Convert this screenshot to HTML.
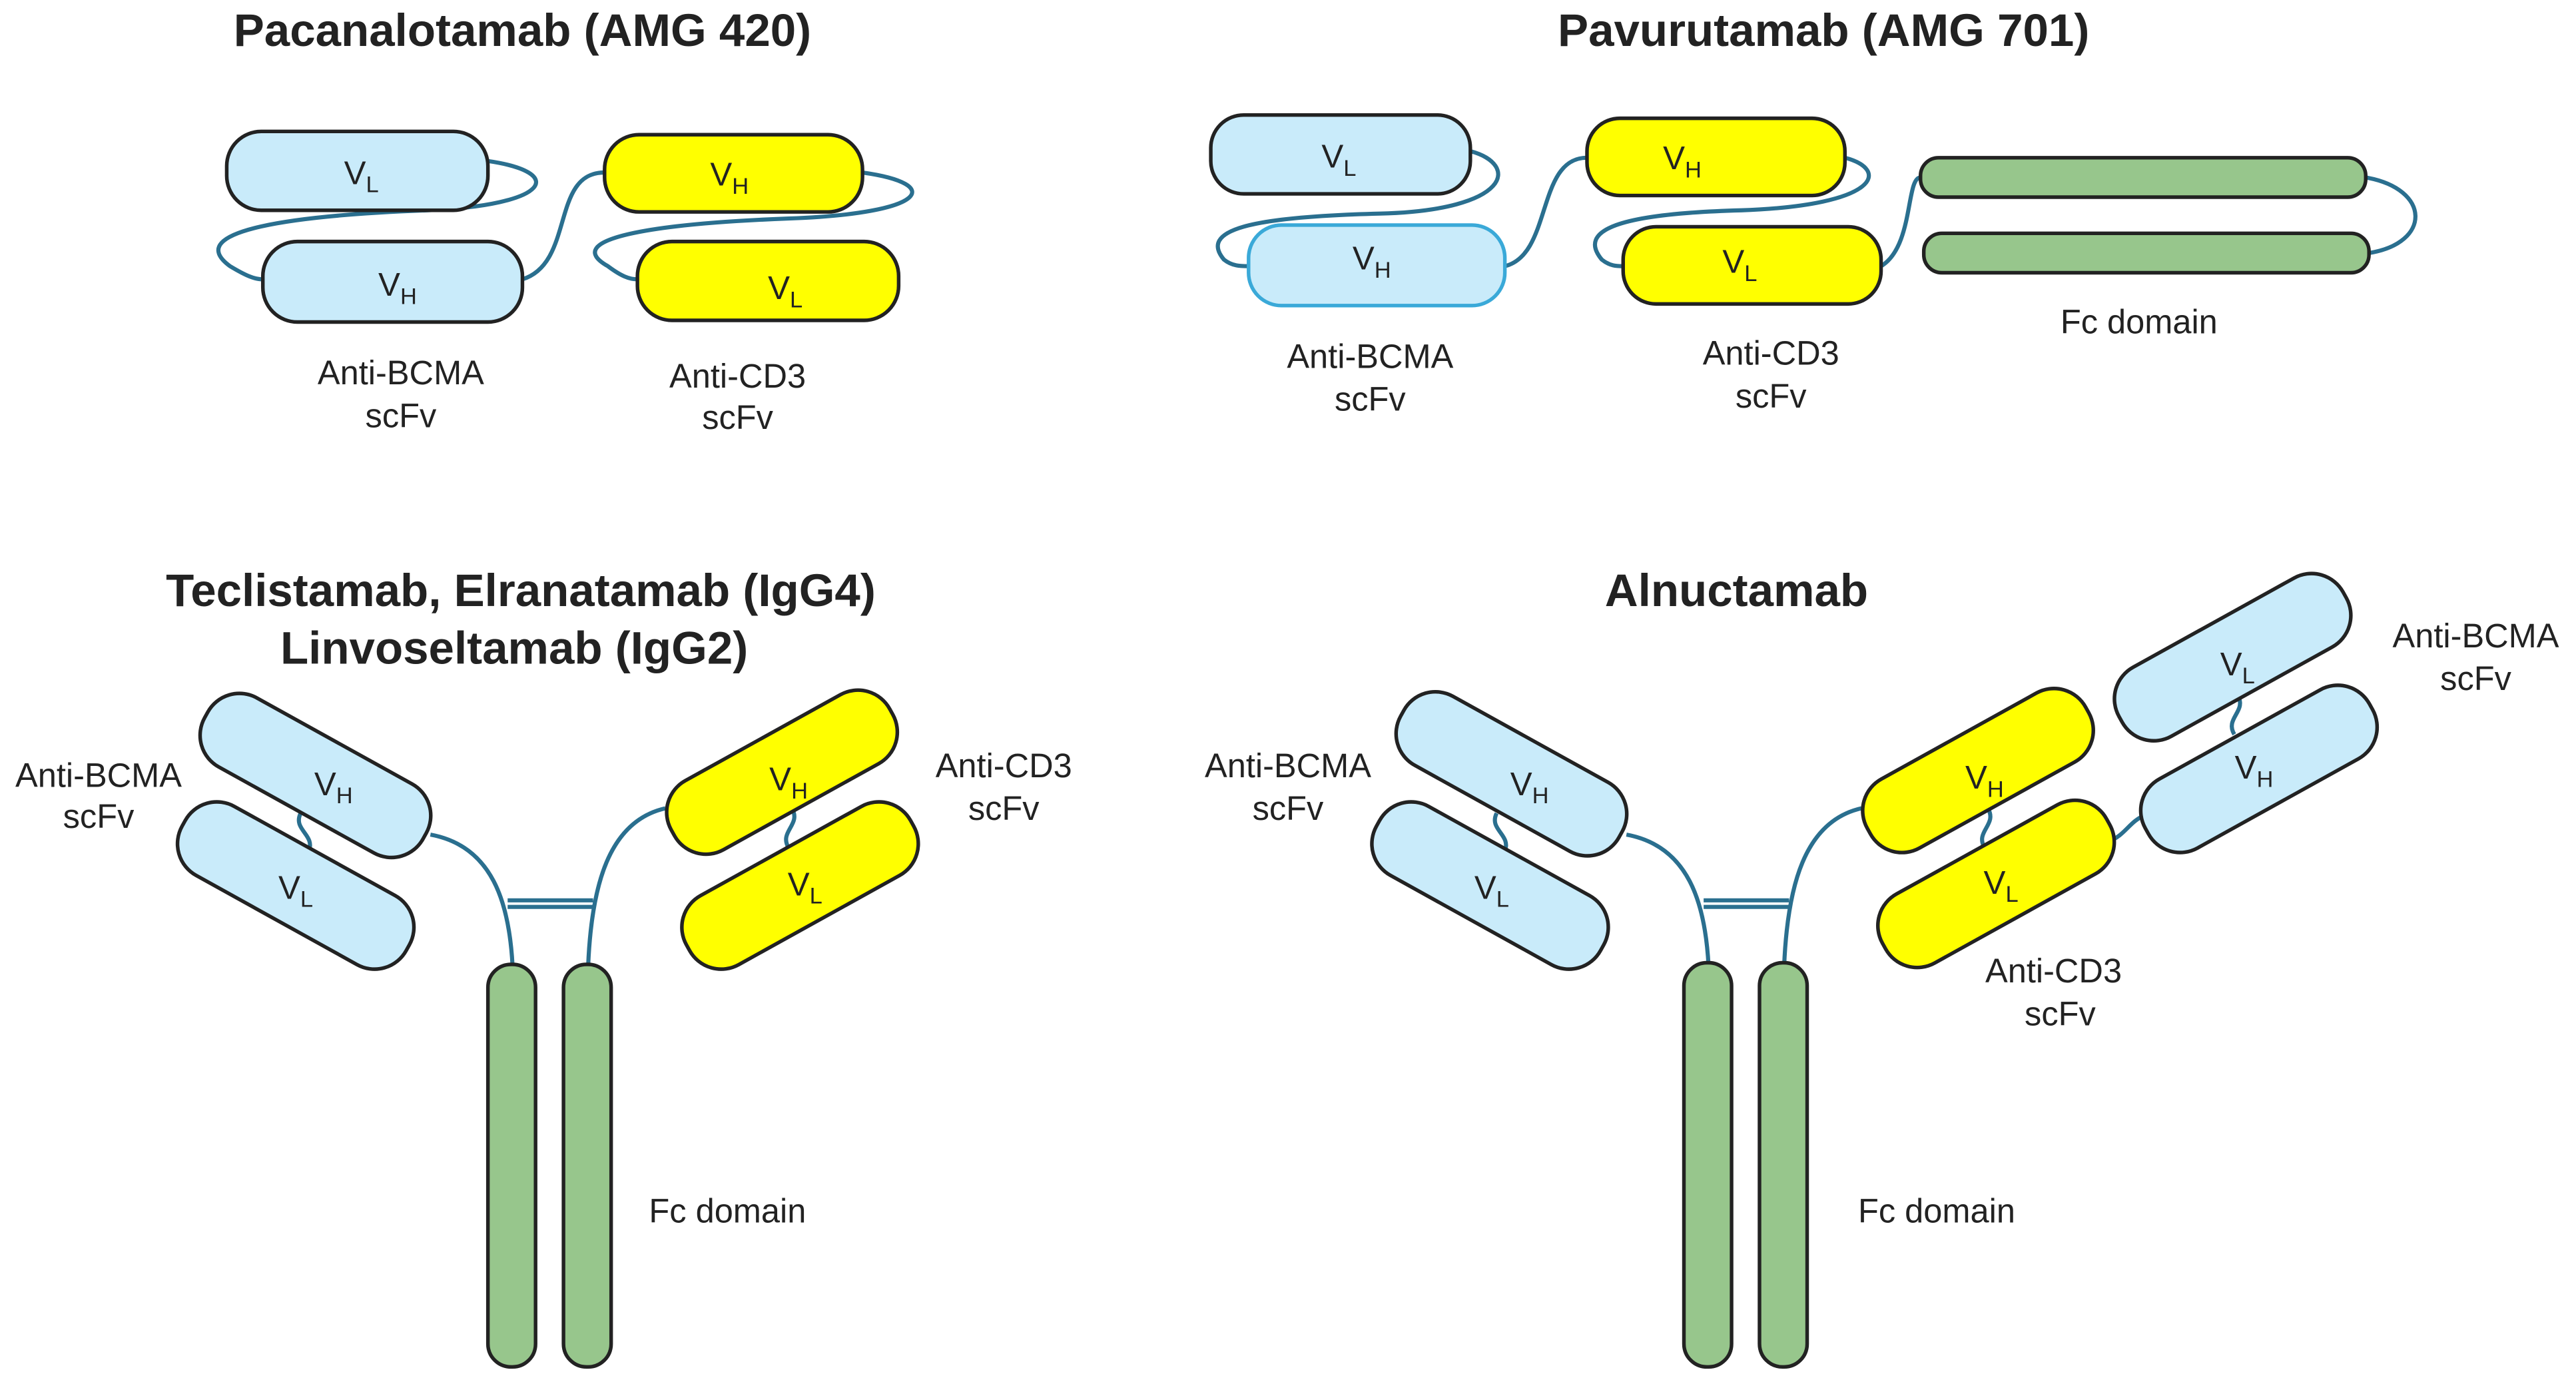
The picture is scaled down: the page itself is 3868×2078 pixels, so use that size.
<!DOCTYPE html>
<html><head><meta charset="utf-8"><style>
html,body{margin:0;padding:0;background:#fff}
svg{display:block}
text{font-family:"Liberation Sans",Arial,sans-serif;fill:#222}
.l{font-size:20.5px;text-anchor:middle}
.t{font-size:28px;font-weight:bold;text-anchor:middle}
.v{font-size:20px;text-anchor:middle}
.s{font-size:14px}
.b{fill:#c9ebfa;stroke:#222;stroke-width:2.2}
.y{fill:#ffff00;stroke:#222;stroke-width:2.2}
.g{fill:#97c68c;stroke:#222;stroke-width:2.2}
.k{fill:none;stroke:#2a6f8f;stroke-width:2.5}
</style></head><body>
<svg width="3868" height="2078" viewBox="0 0 1568 842.4" preserveAspectRatio="none" xmlns="http://www.w3.org/2000/svg">
<!-- Top-left -->
<text class="t" x="318" y="28">Pacanalotamab (AMG 420)</text>
<path class="k" d="M297 98 C345 105 335 125 260 128 C180 131 110 140 140 162 C150 168 155 170 160 170"/>
<path class="k" d="M318 170 C350 160 335 105 368 105"/>
<path class="k" d="M525 105 C575 112 565 130 480 133 C400 136 340 145 370 162 C378 168 383 170 388 170"/>
<rect class="b" x="138" y="80" width="159" height="48" rx="21"/>
<rect class="b" x="160" y="147" width="158" height="49" rx="21"/>
<rect class="y" x="368" y="82" width="157" height="47" rx="21"/>
<rect class="y" x="388" y="147" width="159" height="48" rx="21"/>
<text class="v" x="220" y="112">V<tspan class="s" dy="5">L</tspan></text>
<text class="v" x="242" y="180">V<tspan class="s" dy="5">H</tspan></text>
<text class="v" x="444" y="113">V<tspan class="s" dy="5">H</tspan></text>
<text class="v" x="478" y="182">V<tspan class="s" dy="5">L</tspan></text>
<text class="l" x="244" y="234">Anti-BCMA</text><text class="l" x="244" y="260">scFv</text>
<text class="l" x="449" y="236">Anti-CD3</text><text class="l" x="449" y="261">scFv</text>

<!-- Top-right -->
<text class="t" x="1110" y="28">Pavurutamab (AMG 701)</text>
<path class="k" d="M895 92 C925 100 920 128 840 130 C760 132 730 140 745 158 C750 162 755 162 760 162"/>
<path class="k" d="M916 162 C945 155 935 96 966 96"/>
<path class="k" d="M1123 96 C1150 103 1145 125 1060 128 C985 130 960 140 975 158 C980 162 984 162 988 162"/>
<path class="k" d="M1145 162 C1165 150 1160 108 1169 108"/>
<path class="k" d="M1440 108 C1480 115 1480 148 1442 154"/>
<rect class="b" x="737" y="70" width="158" height="48" rx="20"/>
<rect class="b" x="760" y="137" width="156" height="49" rx="20" style="stroke:#3aa9d8"/>
<rect class="y" x="966" y="72" width="157" height="47" rx="20"/>
<rect class="y" x="988" y="138" width="157" height="47" rx="20"/>
<rect class="g" x="1169" y="96" width="271" height="24" rx="11"/>
<rect class="g" x="1171" y="142" width="271" height="24" rx="11"/>
<text class="v" x="815" y="102">V<tspan class="s" dy="5">L</tspan></text>
<text class="v" x="835" y="164">V<tspan class="s" dy="5">H</tspan></text>
<text class="v" x="1024" y="103">V<tspan class="s" dy="5">H</tspan></text>
<text class="v" x="1059" y="166">V<tspan class="s" dy="5">L</tspan></text>
<text class="l" x="834" y="224">Anti-BCMA</text><text class="l" x="834" y="250">scFv</text>
<text class="l" x="1078" y="222">Anti-CD3</text><text class="l" x="1078" y="248">scFv</text>
<text class="l" x="1302" y="203">Fc domain</text>

<!-- Bottom-left -->
<text class="t" x="317" y="369">Teclistamab, Elranatamab (IgG4)</text>
<text class="t" x="313" y="404">Linvoseltamab (IgG2)</text>
<path class="k" d="M262 508 C300 515 310 550 312 588"/>
<path class="k" d="M405 492 C370 500 360 540 358 588"/>
<path class="k" d="M309 548 H361 M309 552 H361"/>
<path class="k" d="M183 495 C178 505 192 508 188 518"/>
<path class="k" d="M482 492 C488 502 474 506 480 516"/>
<rect class="g" x="297" y="587" width="29" height="245" rx="14"/>
<rect class="g" x="343" y="587" width="29" height="245" rx="14"/>
<g transform="translate(192,472) rotate(29)"><rect class="b" x="-76" y="-24" width="152" height="48" rx="22"/></g>
<g transform="translate(180,539) rotate(29)"><rect class="b" x="-78" y="-24" width="156" height="48" rx="22"/></g>
<g transform="translate(476,470) rotate(-29)"><rect class="y" x="-76" y="-24" width="152" height="48" rx="22"/></g>
<g transform="translate(487,539) rotate(-29)"><rect class="y" x="-78" y="-24" width="156" height="48" rx="22"/></g>
<text class="v" x="203" y="484">V<tspan class="s" dy="5">H</tspan></text>
<text class="v" x="180" y="547">V<tspan class="s" dy="5">L</tspan></text>
<text class="v" x="480" y="481">V<tspan class="s" dy="5">H</tspan></text>
<text class="v" x="490" y="545">V<tspan class="s" dy="5">L</tspan></text>
<text class="l" x="60" y="479">Anti-BCMA</text><text class="l" x="60" y="504">scFv</text>
<text class="l" x="611" y="473">Anti-CD3</text><text class="l" x="611" y="499">scFv</text>
<text class="l" x="395" y="744" style="text-anchor:start">Fc domain</text>

<!-- Bottom-right -->
<text class="t" x="1057" y="369">Alnuctamab</text>
<path class="k" d="M990 508 C1028 515 1038 550 1040 588"/>
<path class="k" d="M1133 492 C1098 500 1088 540 1086 588"/>
<path class="k" d="M1037 548 H1089 M1037 552 H1089"/>
<path class="k" d="M911 495 C906 505 920 508 916 518"/>
<path class="k" d="M1210 492 C1216 502 1202 506 1208 516"/>
<path class="k" d="M1362 423 C1368 433 1354 437 1360 447"/>
<path class="k" d="M1284 512 C1294 508 1296 500 1306 496"/>
<rect class="g" x="1025" y="586" width="29" height="246" rx="14"/>
<rect class="g" x="1071" y="586" width="29" height="246" rx="14"/>
<g transform="translate(920,471) rotate(29)"><rect class="b" x="-76" y="-24" width="152" height="48" rx="22"/></g>
<g transform="translate(907,539) rotate(29)"><rect class="b" x="-78" y="-24" width="156" height="48" rx="22"/></g>
<g transform="translate(1204,469) rotate(-29)"><rect class="y" x="-76" y="-24" width="152" height="48" rx="22"/></g>
<g transform="translate(1215,538) rotate(-29)"><rect class="y" x="-78" y="-24" width="156" height="48" rx="22"/></g>
<g transform="translate(1359,400) rotate(-29)"><rect class="b" x="-78" y="-24" width="156" height="48" rx="22"/></g>
<g transform="translate(1375,468) rotate(-29)"><rect class="b" x="-78" y="-24" width="156" height="48" rx="22"/></g>
<text class="v" x="931" y="484">V<tspan class="s" dy="5">H</tspan></text>
<text class="v" x="908" y="547">V<tspan class="s" dy="5">L</tspan></text>
<text class="v" x="1208" y="480">V<tspan class="s" dy="5">H</tspan></text>
<text class="v" x="1218" y="544">V<tspan class="s" dy="5">L</tspan></text>
<text class="v" x="1362" y="411">V<tspan class="s" dy="5">L</tspan></text>
<text class="v" x="1372" y="474">V<tspan class="s" dy="5">H</tspan></text>
<text class="l" x="784" y="473">Anti-BCMA</text><text class="l" x="784" y="499">scFv</text>
<text class="l" x="1507" y="394">Anti-BCMA</text><text class="l" x="1507" y="420">scFv</text>
<text class="l" x="1250" y="598">Anti-CD3</text><text class="l" x="1254" y="624">scFv</text>
<text class="l" x="1131" y="744" style="text-anchor:start">Fc domain</text>
</svg>
</body></html>
